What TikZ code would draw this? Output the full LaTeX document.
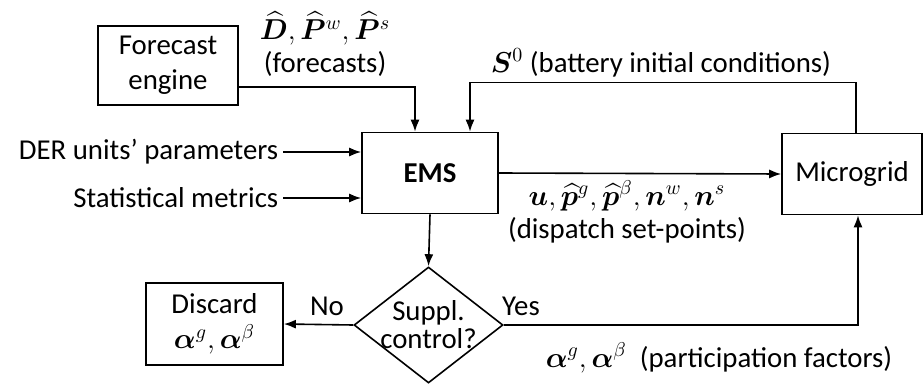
\documentclass[tikz,border=0pt]{standalone}
\usepackage{fontspec}
\setmainfont{Carlito}
\usepackage{amsmath}
\usepackage{bm}
\usetikzlibrary{arrows.meta,shapes.geometric}

\begin{document}
\begin{tikzpicture}[x=0.5pt, y=-0.5pt, line width=0.8pt,
  font=\fontsize{14.4}{17.5}\selectfont,
  >={Latex[length=6pt,width=4.5pt]},
  block/.style={draw, rectangle, align=center, inner sep=2pt},
  txt/.style={align=center, inner sep=2pt}]
\useasboundingbox (0,0) rectangle (924,385);
% boxes
\node  (fce)[block, minimum width=70pt, minimum height=39.5pt] at (168,65.5) {Forecast\\engine};
\node  (ems)[block, minimum width=68pt, minimum height=40.5pt] at (430,173) {\textbf{EMS}};
\node  (mg)[block, minimum width=70pt, minimum height=40.5pt] at (852,174) {Microgrid};
\node  (supp)[draw, diamond, shape aspect=1.28, minimum width=74.5pt, minimum height=58pt, inner sep=-2pt, align=center] at (428.5,325) {Suppl.\\[-3.5pt]control?};
\node  (disc)[block, minimum width=68.5pt, minimum height=41pt] at (214.5,324) {Discard\\$\bm{\alpha}^g,\bm{\alpha}^\beta$};
% inputs
\node  (der)[txt, anchor=east] at (283,152) {DER units' parameters};
\node  (stat)[txt, anchor=east] at (283,198) {Statistical metrics};
% labels
\node  (lfc)[txt] at (325,44) {${\widehat{\bm{D}}},{\widehat{\bm{P}}}^{w},{\widehat{\bm{P}}}^{s}$\\[-1pt](forecasts)};
\node  (ls0)[txt] at (661,63) {$\bm{S}^0$ (battery initial conditions)};
\node  (ldisp)[txt] at (627,212) {$\bm{u},{\widehat{\bm{p}}}^{g},{\widehat{\bm{p}}}^{\beta},\bm{n}^w,\bm{n}^s$\\[-1pt](dispatch set-points)};
\node  (lno)[txt] at (327,306) {No};
\node  (lyes)[txt] at (521,306) {Yes};
\node  (lpf)[txt] at (719,358) {$\bm{\alpha}^g,\bm{\alpha}^\beta$~ (participation factors)};
% connectors
\draw[->] (fce.east |- 0,87) -| ([xshift=-7.5pt]ems.north);
\draw[->] ([xshift=2pt]mg.north) -- ++(0,-50) -| ([xshift=20pt]ems.north);
\draw[->] (der.east) -- (der.east -| ems.west);
\draw[->] (stat.east) -- (stat.east -| ems.west);
\draw[->] (ems.east) -- (mg.west);
\draw[->] (ems.south) -- (supp.north);
\draw[->] (supp.west) -- (disc.east);
\draw[->] (supp.east) -| ([xshift=3pt]mg.south);
\end{tikzpicture}
\end{document}
